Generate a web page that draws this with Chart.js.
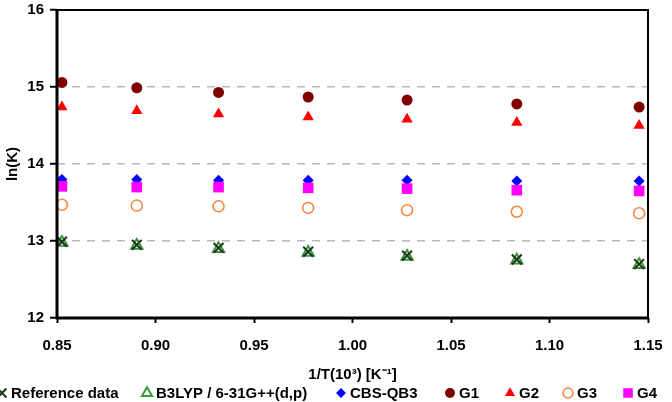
<!DOCTYPE html>
<html>
<head>
<meta charset="utf-8">
<script src="https://cdn.jsdelivr.net/npm/chart.js@4.4.1/dist/chart.umd.min.js"></script>
<style>
  html, body { margin: 0; padding: 0; background: #fff; }
  #wrap { width: 672px; height: 402px; }
</style>
</head>
<body>
<div id="wrap"><canvas id="lnk-chart" width="672" height="402"></canvas></div>
<script>
// 1/T values (10^3 K^-1) for T = 1173 ... 873 K
const invT = [0.8525, 0.8905, 0.9320, 0.9775, 1.0277, 1.0834, 1.1455];

// ln(K) for each method
const refData = [12.99, 12.95, 12.91, 12.86, 12.81, 12.76, 12.70];
const b3lyp = [12.98, 12.94, 12.90, 12.85, 12.80, 12.75, 12.69];
const cbsqb3 = [13.80, 13.80, 13.79, 13.79, 13.79, 13.78, 13.78];
const g1 = [15.06, 14.99, 14.93, 14.87, 14.83, 14.78, 14.74];
const g2 = [14.74, 14.69, 14.65, 14.61, 14.58, 14.54, 14.50];
const g3 = [13.47, 13.46, 13.45, 13.43, 13.40, 13.38, 13.36];
const g4 = [13.71, 13.70, 13.70, 13.69, 13.68, 13.66, 13.65];

const seriesNames = ['Reference data', 'B3LYP / 6-31G++(d,p)', 'CBS-QB3', 'G1', 'G2', 'G3', 'G4'];

const xTicks = [0.85, 0.90, 0.95, 1.00, 1.05, 1.10, 1.15];
const yTicks = [12, 13, 14, 15, 16];

function toPoints(values) {
    return values.map((v, i) => ({ x: invT[i], y: v }));
}

const font = { family: 'Liberation Sans, Arial, sans-serif', size: 15, weight: 'bold' };

// frame round the plot area
const framePlugin = {
    id: 'frame',
    afterDatasetsDraw(chart) {
        const a = chart.chartArea;
        const ctx = chart.ctx;
        ctx.save();
        ctx.strokeStyle = '#000';
        ctx.lineWidth = 2;
        ctx.strokeRect(a.left, a.top, a.right - a.left, a.bottom - a.top);
        ctx.lineWidth = 3;
        ctx.beginPath();
        ctx.moveTo(a.left, a.top);
        ctx.lineTo(a.left, a.bottom);
        ctx.lineTo(a.right, a.bottom);
        ctx.stroke();
        ctx.restore();
    }
};

// Excel-like legend row under the axis title
const legendPlugin = {
    id: 'rowLegend',
    afterDraw(chart) {
        const ctx = chart.ctx;
        const markerX = [2, 147, 341, 450, 510, 568, 628];
        const y = 393;
        ctx.save();
        ctx.font = `${font.weight} ${font.size}px ${font.family}`;
        ctx.textBaseline = 'middle';
        ctx.textAlign = 'left';
        chart.data.datasets.forEach((ds, i) => {
            ctx.fillStyle = ds.backgroundColor;
            ctx.strokeStyle = ds.borderColor;
            ctx.lineWidth = ds.pointBorderWidth;
            Chart.helpers.drawPoint(ctx, {
                pointStyle: ds.pointStyle,
                radius: ds.pointRadius * 0.9,
                rotation: 0,
                borderWidth: ds.pointBorderWidth
            }, markerX[i], y);
            ctx.fillStyle = '#000';
            ctx.fillText(ds.label, markerX[i] + 9, y + 1);
        });
        ctx.restore();
    }
};

const ctx = document.getElementById('lnk-chart').getContext('2d');
new Chart(ctx, {
    type: 'scatter',
    data: {
        datasets: [
            {
                label: seriesNames[0],
                data: toPoints(refData),
                pointStyle: 'crossRot',
                pointRadius: 7,
                borderColor: '#1f331f',
                backgroundColor: '#1f331f',
                pointBorderWidth: 2,
                order: 0
            },
            {
                label: seriesNames[1],
                data: toPoints(b3lyp),
                pointStyle: 'triangle',
                pointRadius: 6.5,
                borderColor: '#33993a',
                backgroundColor: 'rgba(255,255,255,0)',
                pointBorderWidth: 2,
                order: 1
            },
            {
                label: seriesNames[2],
                data: toPoints(cbsqb3),
                pointStyle: 'rectRot',
                pointRadius: 5.5,
                borderColor: '#0000ff',
                backgroundColor: '#0000ff',
                pointBorderWidth: 0,
                order: 3
            },
            {
                label: seriesNames[3],
                data: toPoints(g1),
                pointStyle: 'circle',
                pointRadius: 5.5,
                borderColor: '#800000',
                backgroundColor: '#800000',
                pointBorderWidth: 0,
                order: 4
            },
            {
                label: seriesNames[4],
                data: toPoints(g2),
                pointStyle: 'triangle',
                pointRadius: 6.5,
                borderColor: '#ff0000',
                backgroundColor: '#ff0000',
                pointBorderWidth: 0,
                order: 5
            },
            {
                label: seriesNames[5],
                data: toPoints(g3),
                pointStyle: 'circle',
                pointRadius: 5.5,
                borderColor: '#f5843c',
                backgroundColor: 'rgba(255,255,255,0)',
                pointBorderWidth: 1.5,
                order: 6
            },
            {
                label: seriesNames[6],
                data: toPoints(g4),
                pointStyle: 'rect',
                pointRadius: 7.5,
                borderColor: '#ff00ff',
                backgroundColor: '#ff00ff',
                pointBorderWidth: 0,
                order: 2
            }
        ]
    },
    options: {
        responsive: false,
        animation: false,
        layout: {
            padding: { top: 10, right: 24, left: 0, bottom: 18 }
        },
        scales: {
            x: {
                type: 'linear',
                min: 0.85,
                max: 1.15,
                afterBuildTicks(scale) {
                    scale.ticks = xTicks.map(v => ({ value: v }));
                },
                afterFit(scale) {
                    scale.height = 66;
                    scale.paddingLeft = 0;
                    scale.paddingRight = 0;
                },
                ticks: {
                    color: '#000',
                    font: font,
                    padding: 14,
                    callback: v => v.toFixed(2)
                },
                grid: {
                    drawOnChartArea: false,
                    drawTicks: true,
                    tickLength: 5,
                    tickColor: '#000',
                    tickWidth: 2
                },
                border: { display: false },
                title: {
                    display: true,
                    text: '1/T(10\u00b3) [K\u207b\u00b9]',
                    color: '#000',
                    font: font,
                    padding: { top: 4, bottom: 0 }
                }
            },
            y: {
                type: 'linear',
                min: 12,
                max: 16,
                afterBuildTicks(scale) {
                    scale.ticks = yTicks.map(v => ({ value: v }));
                },
                afterFit(scale) {
                    scale.width = 57;
                    scale.paddingTop = 0;
                    scale.paddingBottom = 0;
                },
                ticks: {
                    color: '#000',
                    font: font,
                    padding: 6
                },
                grid: {
                    color: c => (c.tick && (c.tick.value === 12 || c.tick.value === 16)) ? 'rgba(0,0,0,0)' : '#b8b8b8',
                    lineWidth: 1.5,
                    tickColor: '#000',
                    tickLength: 7,
                    tickWidth: 2,
                    tickBorderDash: []
                },
                border: { display: false, dash: [8, 7] },
                title: {
                    display: true,
                    text: 'ln(K)',
                    color: '#000',
                    font: font,
                    padding: { top: 4, bottom: 0 }
                }
            }
        },
        plugins: {
            legend: { display: false },
            tooltip: { enabled: false }
        }
    },
    plugins: [framePlugin, legendPlugin]
});
</script>
</body>
</html>
